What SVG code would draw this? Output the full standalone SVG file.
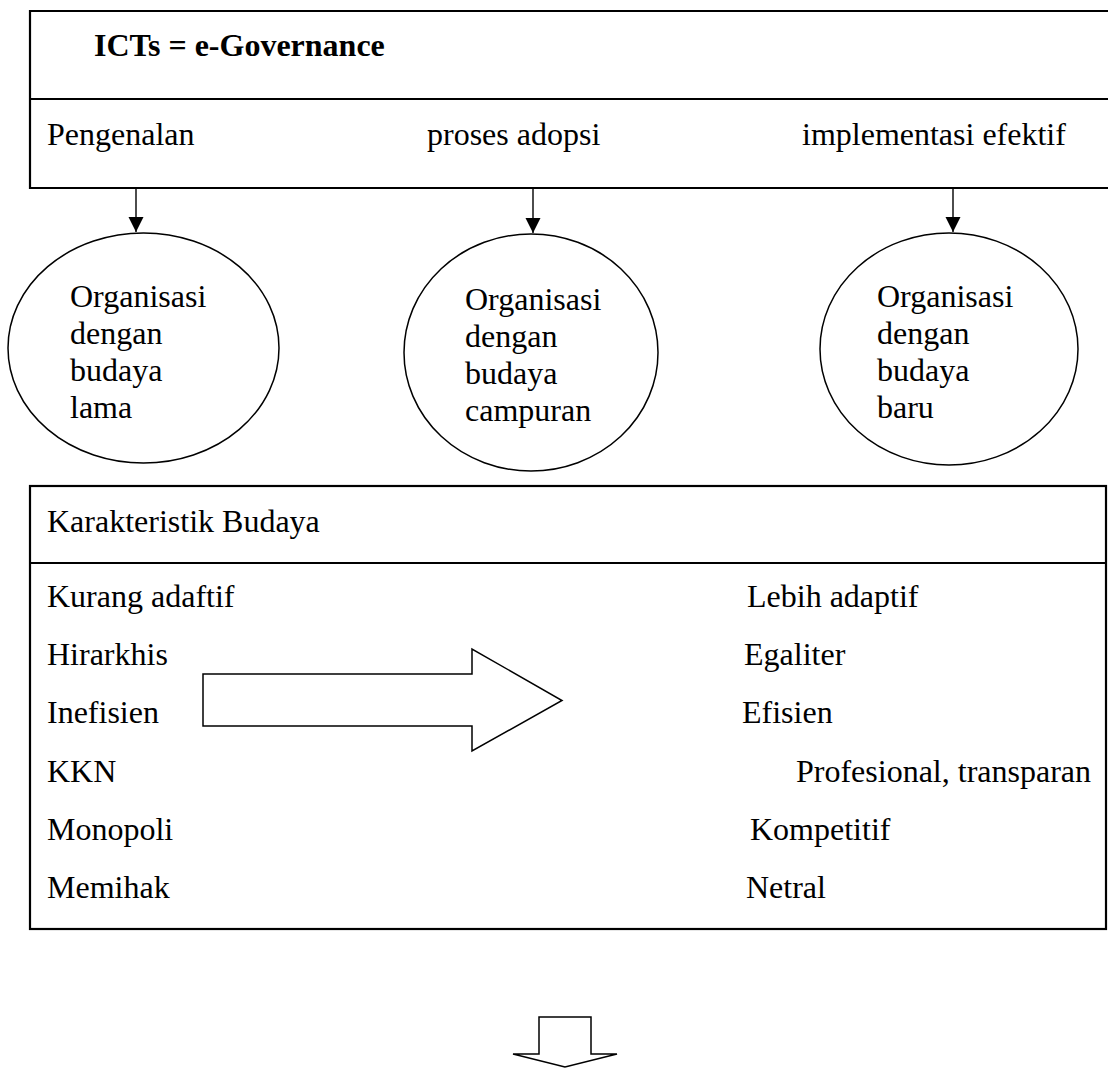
<svg xmlns="http://www.w3.org/2000/svg" width="1108" height="1068" viewBox="0 0 1108 1068">
<style>
  text { font-family: "Liberation Serif", "Times New Roman", serif; font-size: 32px; fill: #000; }
  .b { font-weight: bold; }
  .box { fill: none; stroke: #000; stroke-width: 2.2; }
  .ell { fill: #fff; stroke: #000; stroke-width: 1.5; }
  .blk { fill: #fff; stroke: #000; stroke-width: 1.5; stroke-linejoin: miter; }
  .con { stroke: #000; stroke-width: 1.4; fill: none; }
</style>
<defs>
  <marker id="ah" markerUnits="userSpaceOnUse" markerWidth="16" markerHeight="16" refX="15" refY="7.5" orient="auto">
    <path d="M0,0 L15,7.5 L0,15 Z" fill="#000"/>
  </marker>
</defs>
<rect width="1108" height="1068" fill="#fff"/>

<g id="top-box">
  <path class="box" d="M1110,11 H30 V188 H1110 M30,99 H1110"/>
  <text class="b" x="94" y="56">ICTs = e-Governance</text>
  <text x="47" y="145">Pengenalan</text>
  <text x="427" y="145">proses adopsi</text>
  <text x="802" y="145">implementasi efektif</text>
</g>

<g id="connectors">
  <line class="con" x1="136" y1="188" x2="136" y2="232" marker-end="url(#ah)"/>
  <line class="con" x1="533" y1="188" x2="533" y2="233" marker-end="url(#ah)"/>
  <line class="con" x1="953" y1="188" x2="953" y2="232" marker-end="url(#ah)"/>
</g>

<g id="ellipse-lama">
  <ellipse class="ell" cx="143.5" cy="348" rx="135.5" ry="115"/>
  <text x="70" y="307">Organisasi</text>
  <text x="70" y="344">dengan</text>
  <text x="70" y="381">budaya</text>
  <text x="70" y="418">lama</text>
</g>

<g id="ellipse-campuran">
  <ellipse class="ell" cx="531" cy="352.5" rx="127" ry="118.5"/>
  <text x="465" y="310">Organisasi</text>
  <text x="465" y="347">dengan</text>
  <text x="465" y="384">budaya</text>
  <text x="465" y="421">campuran</text>
</g>

<g id="ellipse-baru">
  <ellipse class="ell" cx="949" cy="349" rx="129" ry="116"/>
  <text x="877" y="307">Organisasi</text>
  <text x="877" y="344">dengan</text>
  <text x="877" y="381">budaya</text>
  <text x="877" y="418">baru</text>
</g>

<g id="karakteristik-box">
  <rect class="box" x="30" y="486" width="1076" height="443"/>
  <line class="box" x1="30" y1="563" x2="1106" y2="563"/>
  <text x="47" y="532">Karakteristik Budaya</text>
  <text x="47" y="607">Kurang adaftif</text>
  <text x="47" y="665">Hirarkhis</text>
  <text x="47" y="723">Inefisien</text>
  <text x="47" y="782">KKN</text>
  <text x="47" y="840">Monopoli</text>
  <text x="47" y="898">Memihak</text>
  <text x="747" y="607">Lebih adaptif</text>
  <text x="744" y="665">Egaliter</text>
  <text x="742" y="723">Efisien</text>
  <text x="796" y="782">Profesional, transparan</text>
  <text x="750" y="840">Kompetitif</text>
  <text x="746" y="898">Netral</text>
</g>

<g id="right-arrow">
  <path class="blk" d="M203,674 H472 V649 L562,700.5 L472,751 V726 H203 Z"/>
</g>

<g id="down-arrow">
  <path class="blk" d="M539,1017 H591 V1054 H617 L565,1067 L513,1054 H539 Z"/>
</g>
</svg>
